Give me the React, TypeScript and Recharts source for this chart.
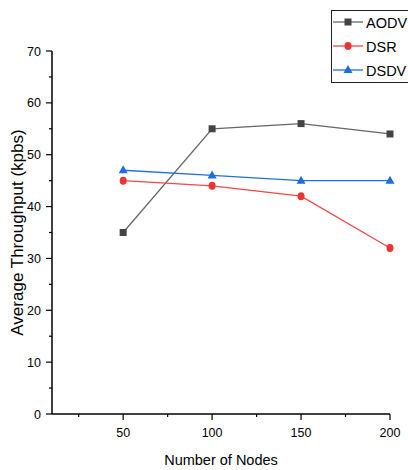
import React from "react";
import {
  LineChart,
  Line,
  XAxis,
  YAxis,
  Legend,
  Label,
} from "recharts";

const nodes = [50, 100, 150, 200];
const aodv = [35, 55, 56, 54];
const dsr = [45, 44, 42, 32];
const dsdv = [47, 46, 45, 45];

const xTicks = [25, 50, 75, 100, 125, 150, 175, 200];
const xLabels = [50, 100, 150, 200];
const yTicks = [0, 5, 10, 15, 20, 25, 30, 35, 40, 45, 50, 55, 60, 65, 70];
const yLabels = [0, 10, 20, 30, 40, 50, 60, 70];

const data = nodes.map((n, i) => ({
  nodes: n,
  AODV: aodv[i],
  DSR: dsr[i],
  DSDV: dsdv[i],
}));

const FONT = "'Liberation Sans', Arial, sans-serif";

const SquareDot: React.FC<any> = ({ cx, cy }) =>
  cx == null ? null : <rect x={cx - 3.5} y={cy - 3.5} width={7} height={7} fill="#444" />;

const CircleDot: React.FC<any> = ({ cx, cy }) =>
  cx == null ? null : <ellipse cx={cx} cy={cy} rx={3.5} ry={4} fill="#ee3333" />;

const TriangleDot: React.FC<any> = ({ cx, cy }) =>
  cx == null ? null : (
    <polygon points={`${cx},${cy - 5} ${cx - 4.5},${cy + 3} ${cx + 4.5},${cy + 3}`} fill="#1a6ee0" />
  );

const YTick: React.FC<any> = ({ x, y, payload }) => {
  const major = yLabels.includes(payload.value);
  const len = major ? 6 : 3;
  return (
    <g>
      <line x1={x - len} x2={x} y1={y} y2={y} stroke="#000" strokeWidth={1.2} />
      {major && (
        <text x={x - 11} y={y} dy={4.5} textAnchor="end" fontSize={12.5} fill="#000" fontFamily={FONT}>
          {payload.value}
        </text>
      )}
    </g>
  );
};

const XTick: React.FC<any> = ({ x, y, payload }) => {
  const major = xLabels.includes(payload.value);
  const len = major ? 6 : 3;
  return (
    <g>
      <line x1={x} x2={x} y1={y} y2={y + len} stroke="#000" strokeWidth={1.2} />
      {major && (
        <text x={x} y={y + 23} textAnchor="middle" fontSize={12.5} fill="#000" fontFamily={FONT}>
          {payload.value}
        </text>
      )}
    </g>
  );
};

const legendItems = [
  { name: "AODV", color: "#666", dot: "square" },
  { name: "DSR", color: "#f04848", dot: "circle" },
  { name: "DSDV", color: "#1f6fdc", dot: "triangle" },
];

const LegendBox: React.FC = () => (
  <svg width={80} height={73} style={{ display: "block" }}>
    <rect x={0.5} y={0.5} width={90} height={72} fill="#fff" stroke="#222" strokeWidth={1} />
    {legendItems.map((item, i) => {
      const cy = 12 + i * 24;
      return (
        <g key={item.name}>
          <line x1={2} x2={32} y1={cy} y2={cy} stroke={item.color} strokeWidth={1.3} />
          {item.dot === "square" && <SquareDot cx={17} cy={cy} />}
          {item.dot === "circle" && <CircleDot cx={17} cy={cy} />}
          {item.dot === "triangle" && <TriangleDot cx={17} cy={cy} />}
          <text x={35} y={cy + 5.5} fontSize={14.5} fill="#000" fontFamily={FONT}>
            {item.name}
          </text>
        </g>
      );
    })}
  </svg>
);

export default function App() {
  return (
    <div style={{ position: "absolute", left: 0, top: 0, background: "#fff" }}>
      <LineChart
        width={408}
        height={470}
        data={data}
        margin={{ top: 51, right: 18, left: 0, bottom: 0 }}
      >
        <XAxis
          dataKey="nodes"
          type="number"
          domain={[10, 200]}
          ticks={xTicks}
          interval={0}
          height={56}
          tickSize={0}
          tickMargin={0}
          tickLine={false}
          tick={<XTick />}
          axisLine={{ stroke: "#000", strokeWidth: 1.5 }}
        >
          <Label
            value="Number of Nodes"
            position="insideBottom"
            offset={5}
            fontSize={14.5}
            fill="#000"
            fontFamily={FONT}
          />
        </XAxis>
        <YAxis
          type="number"
          domain={[0, 70]}
          ticks={yTicks}
          interval={0}
          width={52}
          tickSize={0}
          tickMargin={0}
          tickLine={false}
          tick={<YTick />}
          axisLine={{ stroke: "#000", strokeWidth: 1.5 }}
        >
          <Label
            value="Average Throughput (kpbs)"
            angle={-90}
            position="insideLeft"
            offset={17}
            fontSize={17}
            fill="#000"
            fontFamily={FONT}
            style={{ textAnchor: "middle" }}
          />
        </YAxis>
        <Legend
          layout="horizontal"
          verticalAlign="middle"
          align="center"
          content={<LegendBox />}
          wrapperStyle={{ position: "absolute", left: 331, top: 10, width: 80, height: 73 }}
        />
        <Line
          dataKey="AODV"
          stroke="#666"
          strokeWidth={1.3}
          dot={<SquareDot />}
          activeDot={false}
          isAnimationActive={false}
        />
        <Line
          dataKey="DSR"
          stroke="#f04848"
          strokeWidth={1.3}
          dot={<CircleDot />}
          activeDot={false}
          isAnimationActive={false}
        />
        <Line
          dataKey="DSDV"
          stroke="#1f6fdc"
          strokeWidth={1.3}
          dot={<TriangleDot />}
          activeDot={false}
          isAnimationActive={false}
        />
      </LineChart>
    </div>
  );
}
